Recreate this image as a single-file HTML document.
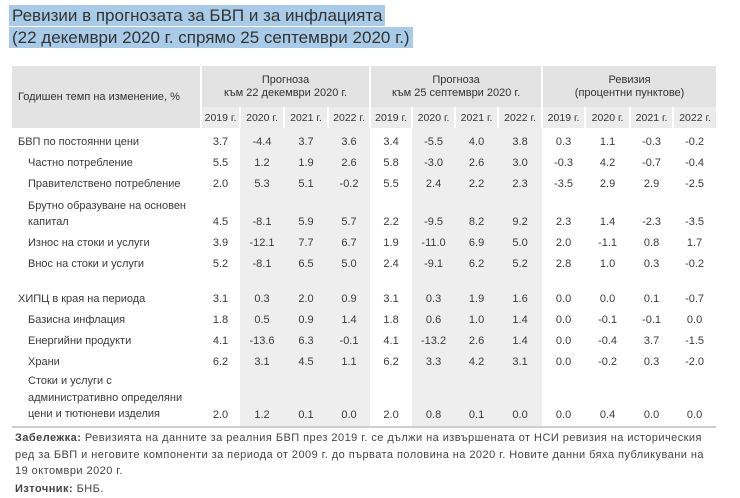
<!DOCTYPE html>
<html><head><meta charset="utf-8"><style>
body{margin:0;width:740px;height:497px;background:#fff;font-family:"Liberation Sans",sans-serif;color:#3a3a3a;position:relative;overflow:hidden}
.t{position:absolute;left:9px;background:#a9cbe8;color:#333;font-size:17px;line-height:21px;padding:0 3px}
table{position:absolute;left:12px;top:66px;border-collapse:collapse;font-size:11px;table-layout:fixed;width:704px}
td{padding:0;text-align:center;white-space:nowrap}
.h td{background:#e3e3e3;color:#333;height:41px;line-height:13px}
.y td{background:#ececec;height:21px;border-left:2px solid #fff;font-size:10.5px;color:#333}
.b td{height:18px;line-height:15px;vertical-align:bottom;padding-bottom:3px}
.b.f td{height:22px}
.l{text-align:left;padding-left:6px!important}
.i{text-align:left;padding-left:16px!important}
.g{background:#eeeeee}
.d{border-left:2px solid #fff}
.last td{border-bottom:2px solid #cfcfcf}
.n{position:absolute;left:15px;font-size:11px;letter-spacing:0.45px;line-height:16.5px;color:#444;white-space:nowrap}
</style></head><body>
<div class="t" style="top:5px">Ревизии в прогнозата за БВП и за инфлацията</div>
<div class="t" style="top:27px">(22 декември 2020 г. спрямо 25 септември 2020 г.)</div>
<table>
<colgroup><col style="width:189px"><col style="width:39px"><col style="width:44px"><col style="width:44px"><col style="width:42px"><col style="width:42px"><col style="width:43px"><col style="width:43px"><col style="width:44px"><col style="width:43px"><col style="width:45px"><col style="width:43px"><col style="width:43px"></colgroup>
<tr class="h"><td class="l" rowspan="2" style="height:62px;vertical-align:middle">Годишен темп на изменение, %</td><td colspan="4" class="d">Прогноза<br>към 22 декември 2020 г.</td><td colspan="4" class="d">Прогноза<br>към 25 септември 2020 г.</td><td colspan="4" class="d">Ревизия<br>(процентни пунктове)</td></tr>
<tr class="y"><td>2019 г.</td><td>2020 г.</td><td>2021 г.</td><td>2022 г.</td><td>2019 г.</td><td>2020 г.</td><td>2021 г.</td><td>2022 г.</td><td>2019 г.</td><td>2020 г.</td><td>2021 г.</td><td>2022 г.</td></tr>
<tr class="b f"><td class="l">БВП по постоянни цени</td><td>3.7</td><td class="g">-4.4</td><td class="g">3.7</td><td class="g">3.6</td><td>3.4</td><td class="g">-5.5</td><td class="g">4.0</td><td class="g">3.8</td><td>0.3</td><td>1.1</td><td>-0.3</td><td>-0.2</td></tr>
<tr class="b"><td class="i">Частно потребление</td><td>5.5</td><td class="g">1.2</td><td class="g">1.9</td><td class="g">2.6</td><td>5.8</td><td class="g">-3.0</td><td class="g">2.6</td><td class="g">3.0</td><td>-0.3</td><td>4.2</td><td>-0.7</td><td>-0.4</td></tr>
<tr class="b"><td class="i">Правителствено потребление</td><td>2.0</td><td class="g">5.3</td><td class="g">5.1</td><td class="g">-0.2</td><td>5.5</td><td class="g">2.4</td><td class="g">2.2</td><td class="g">2.3</td><td>-3.5</td><td>2.9</td><td>2.9</td><td>-2.5</td></tr>
<tr class="b"><td class="i" style="height:35px;line-height:16px">Брутно образуване на основен<br>капитал</td><td>4.5</td><td class="g">-8.1</td><td class="g">5.9</td><td class="g">5.7</td><td>2.2</td><td class="g">-9.5</td><td class="g">8.2</td><td class="g">9.2</td><td>2.3</td><td>1.4</td><td>-2.3</td><td>-3.5</td></tr>
<tr class="b"><td class="i">Износ на стоки и услуги</td><td>3.9</td><td class="g">-12.1</td><td class="g">7.7</td><td class="g">6.7</td><td>1.9</td><td class="g">-11.0</td><td class="g">6.9</td><td class="g">5.0</td><td>2.0</td><td>-1.1</td><td>0.8</td><td>1.7</td></tr>
<tr class="b"><td class="i">Внос на стоки и услуги</td><td>5.2</td><td class="g">-8.1</td><td class="g">6.5</td><td class="g">5.0</td><td>2.4</td><td class="g">-9.1</td><td class="g">6.2</td><td class="g">5.2</td><td>2.8</td><td>1.0</td><td>0.3</td><td>-0.2</td></tr>
<tr><td style="height:14px"></td><td></td><td class="g"></td><td class="g"></td><td class="g"></td><td></td><td class="g"></td><td class="g"></td><td class="g"></td><td></td><td></td><td></td><td></td></tr>
<tr class="b"><td class="l">ХИПЦ в края на периода</td><td>3.1</td><td class="g">0.3</td><td class="g">2.0</td><td class="g">0.9</td><td>3.1</td><td class="g">0.3</td><td class="g">1.9</td><td class="g">1.6</td><td>0.0</td><td>0.0</td><td>0.1</td><td>-0.7</td></tr>
<tr class="b"><td class="i">Базисна инфлация</td><td>1.8</td><td class="g">0.5</td><td class="g">0.9</td><td class="g">1.4</td><td>1.8</td><td class="g">0.6</td><td class="g">1.0</td><td class="g">1.4</td><td>0.0</td><td>-0.1</td><td>-0.1</td><td>0.0</td></tr>
<tr class="b"><td class="i">Енергийни продукти</td><td>4.1</td><td class="g">-13.6</td><td class="g">6.3</td><td class="g">-0.1</td><td>4.1</td><td class="g">-13.2</td><td class="g">2.6</td><td class="g">1.4</td><td>0.0</td><td>-0.4</td><td>3.7</td><td>-1.5</td></tr>
<tr class="b"><td class="i">Храни</td><td>6.2</td><td class="g">3.1</td><td class="g">4.5</td><td class="g">1.1</td><td>6.2</td><td class="g">3.3</td><td class="g">4.2</td><td class="g">3.1</td><td>0.0</td><td>-0.2</td><td>0.3</td><td>-2.0</td></tr>
<tr class="b last"><td class="i" style="height:48px;line-height:16.5px">Стоки и услуги с<br>административно определяни<br>цени и тютюневи изделия</td><td>2.0</td><td class="g">1.2</td><td class="g">0.1</td><td class="g">0.0</td><td>2.0</td><td class="g">0.8</td><td class="g">0.1</td><td class="g">0.0</td><td>0.0</td><td>0.4</td><td>0.0</td><td>0.0</td></tr>
</table>
<div class="n" style="top:430px"><b>Забележка:</b> Ревизията на данните за реалния БВП през 2019 г. се дължи на извършената от НСИ ревизия на историческия<br>ред за БВП и неговите компоненти за периода от 2009 г. до първата половина на 2020 г. Новите данни бяха публикувани на<br>19 октомври 2020 г.</div>
<div class="n" style="top:481px"><b>Източник:</b> БНБ.</div>
</body></html>
